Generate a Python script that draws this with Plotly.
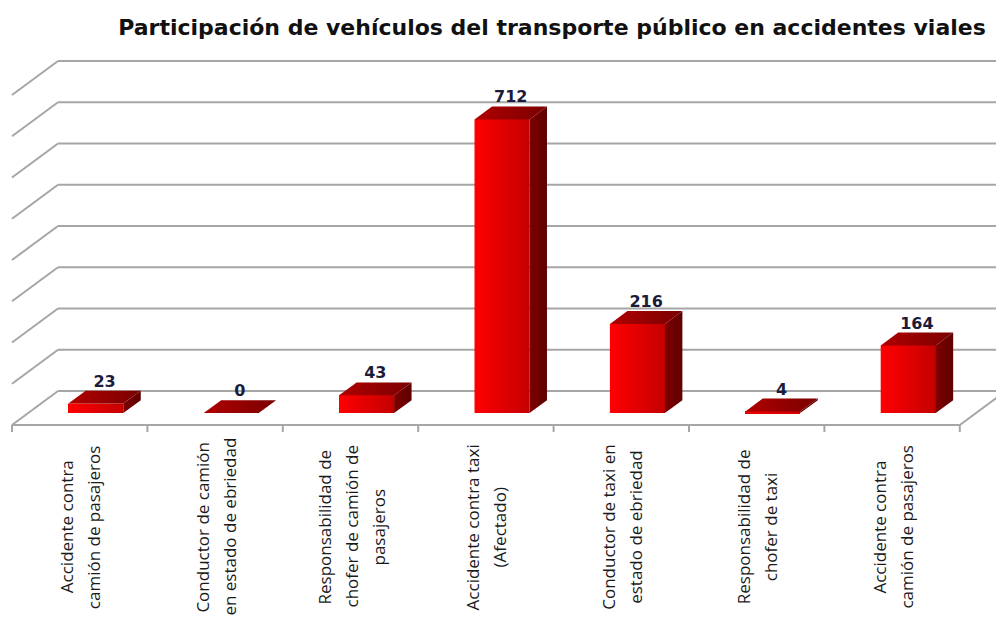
import plotly.graph_objects as go

# ---------------- data ----------------
categories = [
    "Accidente contra<br>camión de pasajeros",
    "Conductor de camión<br>en estado de ebriedad",
    "Responsabilidad de<br>chofer de camión de<br>pasajeros",
    "Accidente contra taxi<br>(Afectado)",
    "Conductor de taxi en<br>estado de ebriedad",
    "Responsabilidad de<br>chofer de taxi",
    "Accidente contra<br>camión de pasajeros",
]
values = [23, 0, 43, 712, 216, 4, 164]
grid_values = [0, 100, 200, 300, 400, 500, 600, 700, 800]
title_text = "Participación de vehículos del transporte público en accidentes viales"

# ---------------- pseudo-3D geometry (layout constants) ----------------
PX_PER_CAT = 135.4          # pixels per category
PX_PER_UNIT = 0.4125        # pixels per value unit
DX = 46 / PX_PER_CAT        # wall depth, x (category units)
DY = 34 / PX_PER_UNIT       # wall depth, y (value units)
F = 0.35                    # depth position of bar front face (0 front, 1 back)
BD = 0.38                   # bar depth fraction
W = 0.406                   # bar width (category units)
N = len(categories)

FIG_W, FIG_H = 996, 616     # page body adds 8px margin
AXIS_LEFT_PX = 4            # front axis start inside figure
PLOT_TOP_PX = 32
PLOT_BOTTOM_PX = 432
AXIS_Y_PX = 417

GRID_COLOR = "#a6a6a6"

fig = go.Figure()

# front faces (bars)
xs = [i + F * DX for i in range(N)]
fig.add_trace(go.Bar(
    x=xs, y=values, base=F * DY, width=W,
    marker=dict(color="#e00000", line=dict(width=0)),
    showlegend=False, hoverinfo="skip",
))

for i, v in enumerate(values):
    xl = xs[i] - W / 2
    xr = xs[i] + W / 2
    yb = F * DY
    yt = F * DY + v
    ox = BD * DX
    oy = BD * DY
    if v > 0:
        fig.add_trace(go.Scatter(
            x=[xl, xr, xr, xl, xl], y=[yb, yb, yt, yt, yb],
            mode="lines", line=dict(width=0), fill="toself",
            fillgradient=dict(type="horizontal",
                              colorscale=[[0, "#ff0000"], [1, "#c40000"]]),
            showlegend=False, hoverinfo="skip",
        ))
    fig.add_trace(go.Scatter(
        x=[xr, xr + ox, xr + ox, xr, xr], y=[yb, yb + oy, yt + oy, yt, yb],
        mode="lines", line=dict(width=0), fill="toself",
        fillgradient=dict(type="horizontal",
                          colorscale=[[0, "#7e0000"], [1, "#5e0000"]]),
        showlegend=False, hoverinfo="skip",
    ))
    fig.add_trace(go.Scatter(
        x=[xl, xr, xr + ox, xl + ox, xl], y=[yt, yt, yt + oy, yt + oy, yt],
        mode="lines", line=dict(width=0), fill="toself",
        fillgradient=dict(type="horizontal",
                          colorscale=[[0, "#b00000"], [1, "#7a0000"]]),
        showlegend=False, hoverinfo="skip",
    ))

# value labels
fig.add_trace(go.Scatter(
    x=[x + BD * DX / 2 for x in xs],
    y=[F * DY + v + BD * DY for v in values],
    mode="text", text=[str(v) for v in values], textposition="top center",
    textfont=dict(family="DejaVu Sans", size=16, color="#1c1c3a", weight="bold"),
    showlegend=False, hoverinfo="skip", cliponaxis=False,
))

# walls / floor / ticks as background shapes
shapes = []
for g in grid_values:
    shapes.append(dict(type="line", xref="x", yref="y", layer="below",
                       x0=-0.5, y0=g, x1=-0.5 + DX, y1=g + DY,
                       line=dict(color=GRID_COLOR, width=2)))
    shapes.append(dict(type="line", xref="x", yref="y", layer="below",
                       x0=-0.5 + DX, y0=g + DY, x1=N - 0.5 + DX, y1=g + DY,
                       line=dict(color=GRID_COLOR, width=2)))
shapes.append(dict(type="line", xref="x", yref="y", layer="below",
                   x0=-0.5, y0=0, x1=N - 0.5, y1=0,
                   line=dict(color=GRID_COLOR, width=2)))
shapes.append(dict(type="line", xref="x", yref="y", layer="below",
                   x0=N - 0.5, y0=0, x1=N - 0.5 + DX, y1=DY,
                   line=dict(color=GRID_COLOR, width=2)))
for k in range(N + 1):
    shapes.append(dict(type="line", xref="x", yref="y", layer="below",
                       x0=k - 0.5, y0=0, x1=k - 0.5, y1=-7 / PX_PER_UNIT,
                       line=dict(color=GRID_COLOR, width=2)))

# category labels: one rotated annotation per line, lines centred
LINE_SP = 27 / PX_PER_CAT
LABEL_CENTER_PX = 519
label_y = (PLOT_BOTTOM_PX - LABEL_CENTER_PX) / (PLOT_BOTTOM_PX - PLOT_TOP_PX)
annotations = []
for i, cat in enumerate(categories):
    lines = cat.split("<br>")
    n = len(lines)
    for k, ln in enumerate(lines):
        annotations.append(dict(
            x=i + (k - (n - 1) / 2) * LINE_SP, xref="x",
            y=label_y, yref="paper",
            text=ln, textangle=-90, showarrow=False,
            xanchor="center", yanchor="middle",
            font=dict(family="Open Sans", size=17, color="#1a1a1a"),
        ))

x_lo = -0.5 - AXIS_LEFT_PX / PX_PER_CAT
x_hi = x_lo + FIG_W / PX_PER_CAT
y_lo = -(PLOT_BOTTOM_PX - AXIS_Y_PX) / PX_PER_UNIT
y_hi = (AXIS_Y_PX - PLOT_TOP_PX) / PX_PER_UNIT

fig.update_layout(
    width=FIG_W, height=FIG_H,
    margin=dict(l=0, r=0, t=PLOT_TOP_PX, b=FIG_H - PLOT_BOTTOM_PX),
    paper_bgcolor="white", plot_bgcolor="white",
    title=dict(text="<b>" + title_text + "</b>",
               x=544 / FIG_W, xanchor="center", y=1 - 19 / FIG_H, yanchor="middle",
               font=dict(family="DejaVu Sans", size=22, color="#111111")),
    xaxis=dict(range=[x_lo, x_hi],
               showgrid=False, zeroline=False, showticklabels=False,
               showline=False, ticks=""),
    yaxis=dict(range=[y_lo, y_hi],
               showgrid=False, zeroline=False, showticklabels=False,
               showline=False, ticks=""),
    shapes=shapes,
    annotations=annotations,
    bargap=0,
)

fig.write_html("out.html")
